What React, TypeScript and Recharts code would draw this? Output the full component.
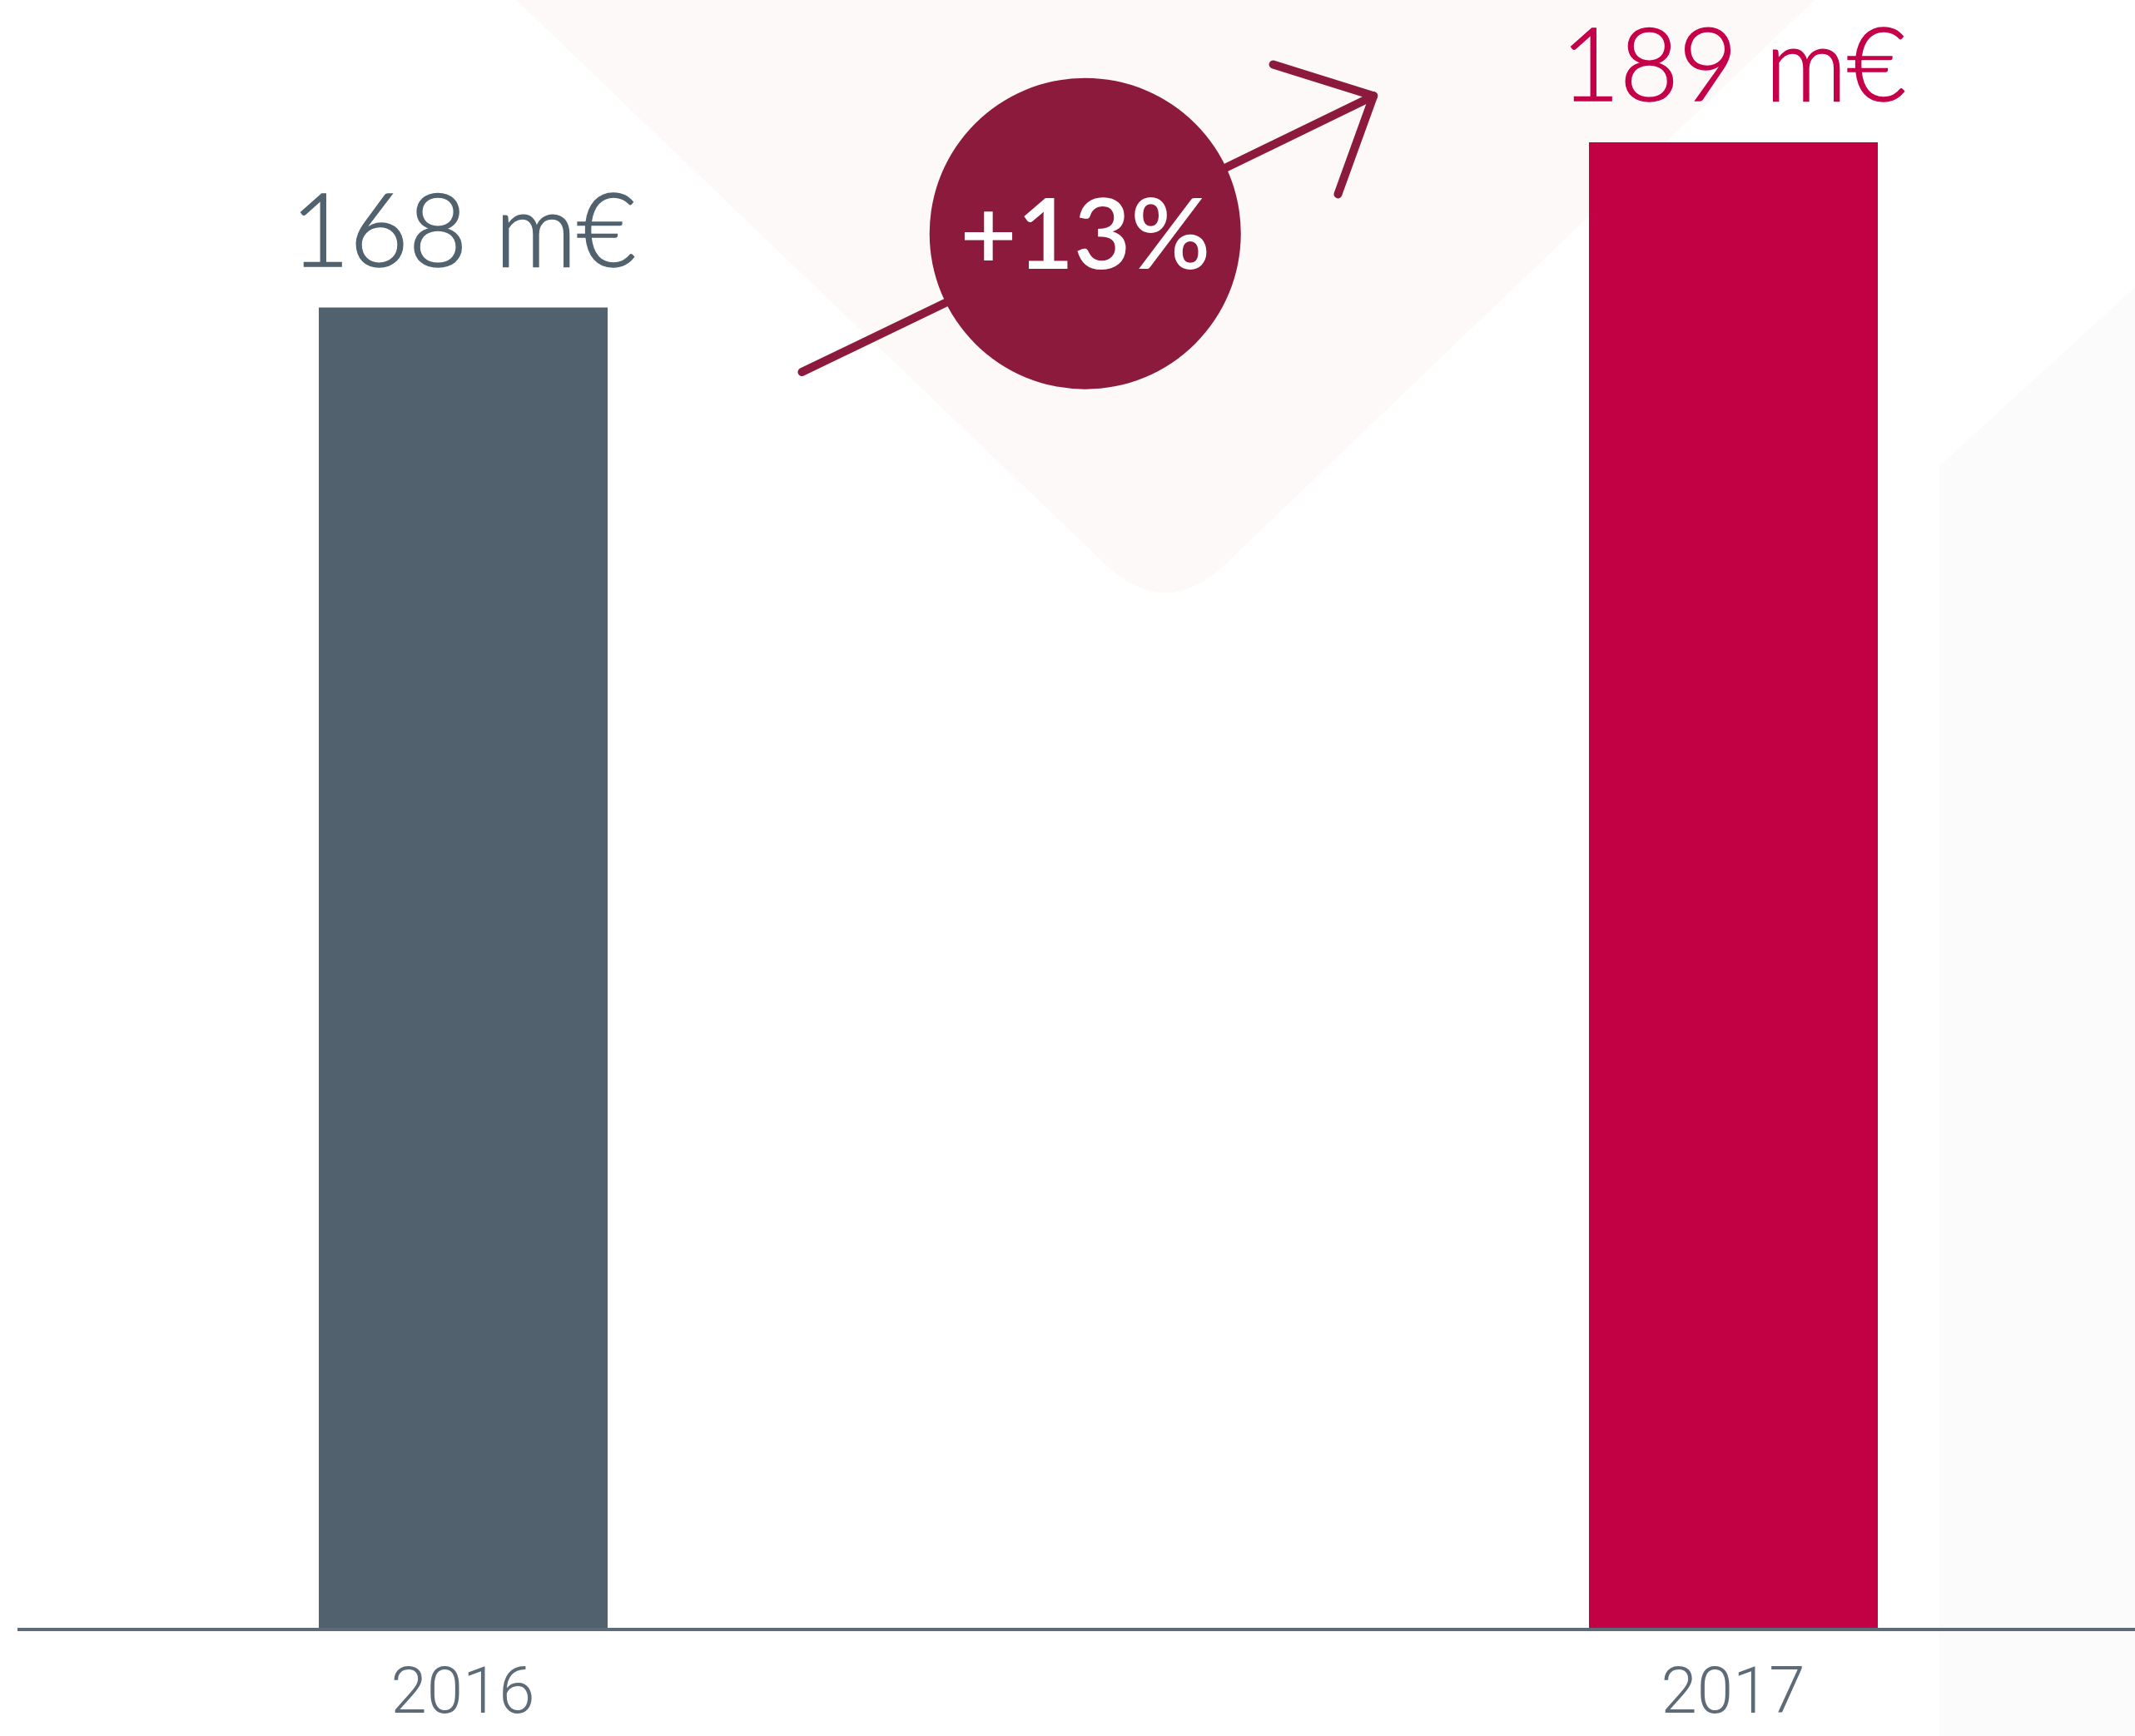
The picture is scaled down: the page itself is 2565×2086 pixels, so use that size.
import { BarChart, Bar, XAxis, YAxis, Cell, LabelList, ReferenceLine, ReferenceDot } from 'recharts';

const years = [2016, 2017];
const revenue = [168, 189];
const barColors = ['#51626e', '#c20044'];
const labelColors = ['#51626e', '#c5004a'];
const growthText = '+13%';

// growth badge and arrow, in data units
const badgeAt = { x: 2016.49, y: 177.4 };
const arrowTail = [
  { x: 2016.267, y: 159.8 },
  { x: 2016.389, y: 169.3 },
];
const arrowHead = [
  { x: 2016.596, y: 185.4 },
  { x: 2016.717, y: 194.9 },
];
const arrowWingA = { x: 2016.638, y: 198.9 };
const arrowWingB = { x: 2016.689, y: 182.4 };

const data = years.map((year, i) => ({ year, value: revenue[i] }));

const W = 2565;
const H = 2086;
const ARROW = '#8c1a3c';

const ValueLabel = (props: any) => {
  const { x, y, width, value, index } = props;
  return (
    <text
      x={x + width / 2}
      y={y - 50}
      textAnchor="middle"
      fontSize={122}
      fontWeight={300}
      fontFamily="Lato, 'Noto Sans', sans-serif"
      fill={labelColors[index]}
      stroke={labelColors[index]}
      strokeWidth={1.5}
    >
      {`${value} m€`}
    </text>
  );
};

const YearTick = (props: any) => {
  const { x, y, payload } = props;
  return (
    <text
      x={x}
      y={y + 100}
      textAnchor="middle"
      fontSize={78}
      fontWeight={300}
      fontFamily="Roboto, 'Noto Sans', sans-serif"
      fill="#5c6b77"
    >
      {payload.value}
    </text>
  );
};

export default function App() {
  const lineProps = { stroke: ARROW, strokeWidth: 10, strokeLinecap: 'round' as const, ifOverflow: 'visible' as const };
  return (
    <div style={{ position: 'absolute', left: 0, top: 0, width: W, height: H, background: '#fff', overflow: 'hidden' }}>
      <svg width={W} height={H} style={{ position: 'absolute', left: 0, top: 0 }}>
        <path d="M 620 0 L 1330 680 Q 1400 745 1470 680 L 2180 0 Z" fill="#fdf9f8" />
        <path d="M 2330 560 L 2565 345 L 2565 2086 L 2330 2086 Z" fill="#fbfbfb" />
      </svg>
      <div style={{ position: 'absolute', left: 0, top: 0 }}>
        <BarChart width={W} height={H} data={data} margin={{ top: 67, right: 0, bottom: 0, left: 21 }}>
          <XAxis
            type="number"
            dataKey="year"
            domain={[2015.6494, 2017.3165]}
            allowDataOverflow
            ticks={years}
            interval={0}
            height={128}
            tickLine={false}
            tickSize={0}
            tickMargin={0}
            axisLine={{ stroke: '#5c6b77', strokeWidth: 4 }}
            tick={<YearTick />}
          />
          <YAxis type="number" domain={[0, 200]} hide width={0} />
          <Bar dataKey="value" barSize={347} isAnimationActive={false}>
            {data.map((_, i) => (
              <Cell key={`cell-${i}`} fill={barColors[i]} />
            ))}
            <LabelList dataKey="value" content={<ValueLabel />} />
          </Bar>
          <ReferenceLine segment={arrowTail} {...lineProps} />
          <ReferenceLine segment={arrowHead} {...lineProps} />
          <ReferenceLine segment={[arrowWingA, arrowHead[1]]} {...lineProps} />
          <ReferenceLine segment={[arrowWingB, arrowHead[1]]} {...lineProps} />
          <ReferenceDot
            x={badgeAt.x}
            y={badgeAt.y}
            r={187}
            fill={ARROW}
            stroke="none"
            ifOverflow="visible"
            label={{
              value: growthText,
              position: 'center',
              fill: '#ffffff',
              fontSize: 118,
              fontWeight: 600,
              fontFamily: "Lato, 'Noto Sans', sans-serif",
            }}
          />
        </BarChart>
      </div>
    </div>
  );
}
